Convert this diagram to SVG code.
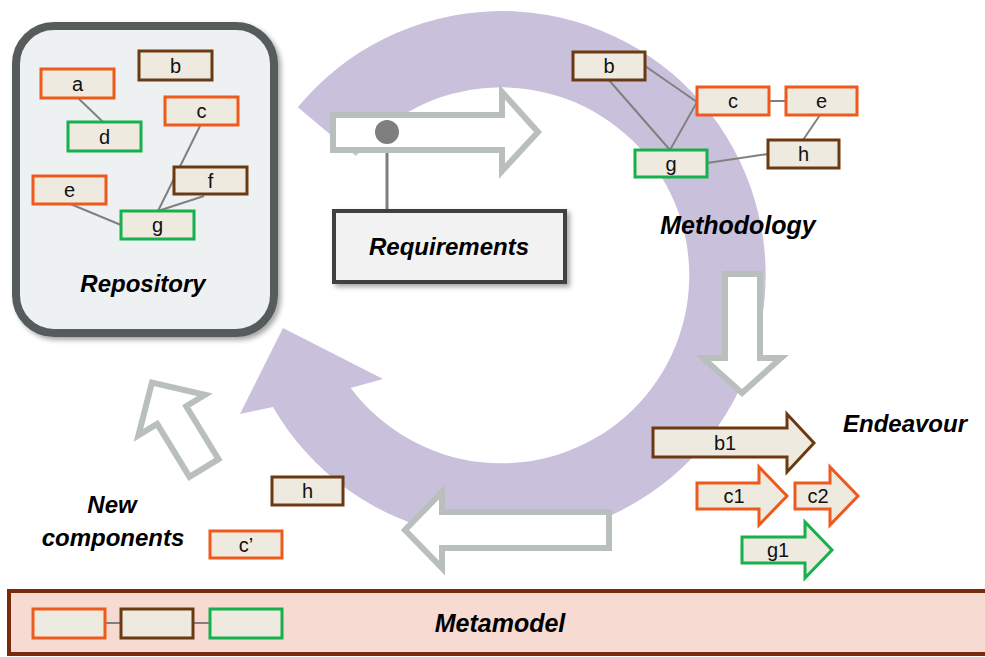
<svg xmlns="http://www.w3.org/2000/svg" width="985" height="657" viewBox="0 0 985 657">
<defs>
<filter id="sh" x="-10%" y="-10%" width="130%" height="130%">
<feDropShadow dx="3" dy="3" stdDeviation="2.5" flood-color="#000" flood-opacity="0.35"/>
</filter>
<style>
.bx{fill:#EEEAE0;stroke-width:3}
.or{stroke:#EE5A1C}
.br{stroke:#6B3A12}
.gr{stroke:#16B04C}
.lb{font-family:"Liberation Sans",Arial,sans-serif;font-size:20px;fill:#111;text-anchor:middle}
.ti{font-family:"Liberation Sans",Arial,sans-serif;font-size:24px;font-weight:bold;font-style:italic;fill:#000;text-anchor:middle}
.ln{stroke:#808080;stroke-width:2;fill:none}
.ha{fill:#fff;stroke:#B9BFBD;stroke-width:6;stroke-linejoin:miter}
.ba{fill:#EEEAE0;stroke-width:3;stroke-linejoin:miter}
</style>
</defs>
<rect width="985" height="657" fill="#fff"/>

<!-- purple cycle ring -->
<path id="cycle" d="M297.8,107.3 A264,264 0 1 1 273,407 L240,414 L283,328 L383,379 L350.7,387.9 A188,188 0 1 0 356,156 Z" fill="#C9C1DC"/>

<!-- Repository -->
<g id="repository">
<rect x="16" y="26" width="258" height="307" rx="38" fill="#EEF1F2" stroke="#575C5C" stroke-width="8" filter="url(#sh)"/>
<text class="ti" x="143" y="292">Repository</text>
</g>

<!-- Metamodel -->
<g id="metamodel">
<rect x="9" y="591" width="990" height="63" fill="#F7DAD2" stroke="#7A2A0C" stroke-width="4"/>
<line class="ln" x1="105" y1="623" x2="121" y2="623" stroke-width="3"/>
<line class="ln" x1="193" y1="623" x2="210" y2="623" stroke-width="3"/>
<rect class="bx or" x="33" y="609" width="72" height="29"/>
<rect class="bx br" x="121" y="609" width="72" height="29"/>
<rect class="bx gr" x="210" y="609" width="72" height="29"/>
<text class="ti" x="500" y="632" style="font-size:25px">Metamodel</text>
</g>

<g id="connectors">
<!-- repository -->
<line class="ln" x1="77" y1="97" x2="103" y2="122"/>
<line class="ln" x1="201" y1="124" x2="158" y2="211"/>
<line class="ln" x1="204" y1="196" x2="158" y2="211"/>
<line class="ln" x1="68" y1="203" x2="121" y2="225"/>
<!-- methodology -->
<line class="ln" x1="645" y1="66" x2="697" y2="102"/>
<line class="ln" x1="608" y1="79" x2="670" y2="150"/>
<line class="ln" x1="697" y1="102" x2="670" y2="150"/>
<line class="ln" x1="769" y1="101" x2="786" y2="101"/>
<line class="ln" x1="820" y1="115" x2="803" y2="140"/>
<line class="ln" x1="707" y1="163" x2="768" y2="154"/>
<!-- requirements pin -->
<line x1="387" y1="132" x2="387" y2="210" stroke="#7F7F7F" stroke-width="3"/>
</g>

<!-- repository nodes -->
<g id="repo-a"><rect class="bx or" x="41" y="69" width="73" height="29"/><text class="lb" x="77.5" y="91">a</text></g>
<g id="repo-b"><rect class="bx br" x="139" y="51" width="73" height="29"/><text class="lb" x="175.5" y="73">b</text></g>
<g id="repo-c"><rect class="bx or" x="165" y="97" width="73" height="28"/><text class="lb" x="201.5" y="118">c</text></g>
<g id="repo-d"><rect class="bx gr" x="68" y="122" width="73" height="29"/><text class="lb" x="104.5" y="144">d</text></g>
<g id="repo-e"><rect class="bx or" x="33" y="176" width="73" height="28"/><text class="lb" x="69.5" y="197">e</text></g>
<g id="repo-f"><rect class="bx br" x="174" y="167" width="73" height="27"/><text class="lb" x="210.5" y="188">f</text></g>
<g id="repo-g"><rect class="bx gr" x="121" y="211" width="73" height="28"/><text class="lb" x="157.5" y="232">g</text></g>

<!-- requirements arrow -->
<g id="req-arrow">
<path class="ha" d="M333,115 L502,115 L502,92 L538,132 L502,171 L502,150 L333,150 Z"/>
<circle cx="387" cy="132" r="12" fill="#7F7F7F"/>
</g>

<!-- Requirements -->
<g id="requirements">
<rect x="334" y="211" width="231" height="71" fill="#F2F2F2" stroke="#3F3F3F" stroke-width="4" filter="url(#sh)"/>
<text class="ti" x="449" y="255">Requirements</text>
</g>

<!-- methodology nodes -->
<g id="meth-b"><rect class="bx br" x="573" y="52" width="72" height="28"/><text class="lb" x="609" y="73">b</text></g>
<g id="meth-c"><rect class="bx or" x="697" y="87" width="72" height="28"/><text class="lb" x="733" y="108">c</text></g>
<g id="meth-e"><rect class="bx or" x="786" y="87" width="71" height="28"/><text class="lb" x="821.5" y="108">e</text></g>
<g id="meth-g"><rect class="bx gr" x="635" y="150" width="72" height="27"/><text class="lb" x="671" y="171">g</text></g>
<g id="meth-h"><rect class="bx br" x="768" y="140" width="71" height="28"/><text class="lb" x="803.5" y="161">h</text></g>
<g id="methodology-label"><text class="ti" x="738" y="234" style="font-size:25px">Methodology</text></g>

<!-- down arrow -->
<g id="down-arrow">
<path class="ha" d="M725,274 L760,274 L760,358 L781,358 L742,393 L703,358 L725,358 Z"/>
</g>

<!-- Endeavour -->
<g id="endeavour-label"><text class="ti" x="905" y="432">Endeavour</text></g>
<g id="end-b1"><path class="ba br" d="M653,428 L787,428 L787,414 L814,443 L787,472 L787,457 L653,457 Z"/><text class="lb" x="725" y="450">b1</text></g>
<g id="end-c1"><path class="ba or" d="M697,483 L759,483 L759,467 L787,496 L759,525 L759,509 L697,509 Z"/><text class="lb" x="734" y="503">c1</text></g>
<g id="end-c2"><path class="ba or" d="M795,483 L830,483 L830,467 L858,496 L830,525 L830,509 L795,509 Z"/><text class="lb" x="818" y="503">c2</text></g>
<g id="end-g1"><path class="ba gr" d="M742,537 L805,537 L805,522 L832,550 L805,578 L805,563 L742,563 Z"/><text class="lb" x="778" y="557">g1</text></g>

<!-- left arrow (bottom) -->
<g id="left-arrow">
<path class="ha" d="M609,512 L609,548 L442,548 L442,568 L405,530 L442,492 L442,512 Z"/>
</g>

<!-- up-left arrow -->
<g id="upleft-arrow">
<path class="ha" transform="translate(204,468) rotate(-121.4)" d="M0,-17 L62,-17 L62,-39 L100,0 L62,39 L62,17 L0,17 Z"/>
</g>

<!-- New components -->
<g id="new-components-label">
<text class="ti" x="112" y="513">New</text>
<text class="ti" x="113" y="546">components</text>
</g>
<g id="new-h"><rect class="bx br" x="272" y="477" width="71" height="28"/><text class="lb" x="307.5" y="498">h</text></g>
<g id="new-c"><rect class="bx or" x="210" y="531" width="72" height="27"/><text class="lb" x="246" y="552">c’</text></g>
</svg>
